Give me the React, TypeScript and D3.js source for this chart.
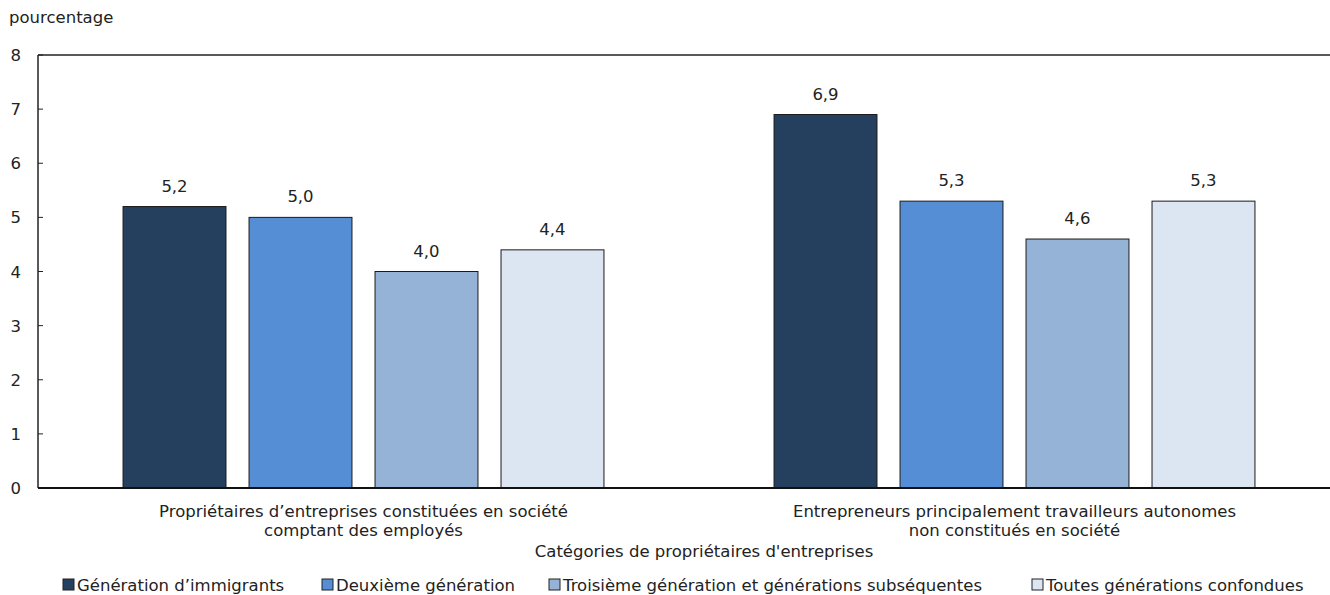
import React from "react";
import * as d3 from "d3";

const categories = [
  ["Propriétaires d’entreprises constituées en société", "comptant des employés"],
  ["Entrepreneurs principalement travailleurs autonomes", "non constitués en société"],
];
const series = [
  "Génération d’immigrants",
  "Deuxième génération",
  "Troisième génération et générations subséquentes",
  "Toutes générations confondues",
];
const values = [
  [5.2, 5.0, 4.0, 4.4],
  [6.9, 5.3, 4.6, 5.3],
];
const colors = ["#253F5F", "#558ED5", "#95B3D7", "#DCE6F2"];
const yTicks = [0, 1, 2, 3, 4, 5, 6, 7, 8];
const legendX = [63, 322, 549, 1032];

const W = 1330;
const H = 595;
const FONT = "Verdana, 'DejaVu Sans', sans-serif";
const FS = 16.5;

export default function App() {
  const left = 38;
  const top = 55;
  const bottom = 488;
  const y = d3.scaleLinear().domain([0, 8]).range([bottom, top]);
  const x0 = d3.scaleBand<number>().domain([0, 1]).range([left, left + 1302]);
  const x1 = d3
    .scaleBand<number>()
    .domain([0, 1, 2, 3])
    .range([0, x0.bandwidth()])
    .paddingInner(0.183)
    .paddingOuter(0.675);
  const fmt = (v: number) => v.toFixed(1).replace(".", ",");

  return (
    <svg width={W} height={H} style={{ position: "absolute", left: 0, top: 0, fontFamily: FONT }}>
      <rect x={0} y={0} width={W} height={H} fill="#fff" />
      <text x={9} y={23} fontSize={FS} fill="#222">pourcentage</text>
      {yTicks.map((t) => (
        <g key={t}>
          <line x1={left} x2={left + 5} y1={y(t)} y2={y(t)} stroke="#222" strokeWidth={1} />
          <text x={21} y={y(t) + 6} fontSize={FS} textAnchor="end" fill="#222">{t}</text>
        </g>
      ))}
      {values.map((row, gi) =>
        row.map((v, si) => {
          const bx = (x0(gi) as number) + (x1(si) as number);
          return (
            <g key={`${gi}-${si}`}>
              <rect
                x={bx}
                y={y(v)}
                width={x1.bandwidth()}
                height={y(0) - y(v)}
                fill={colors[si]}
                stroke="#1a1a1a"
                strokeWidth={1}
              />
              <text x={bx + x1.bandwidth() / 2} y={y(v) - 15} fontSize={FS} textAnchor="middle" fill="#222">
                {fmt(v)}
              </text>
            </g>
          );
        })
      )}
      <line x1={left} x2={W} y1={top} y2={top} stroke="#222" strokeWidth={1.5} />
      <line x1={left} x2={left} y1={top} y2={bottom} stroke="#222" strokeWidth={1.5} />
      <line x1={left} x2={W} y1={bottom} y2={bottom} stroke="#111" strokeWidth={2} />
      {categories.map((lines, gi) => (
        <text key={gi} x={(x0(gi) as number) + x0.bandwidth() / 2} textAnchor="middle" fontSize={FS} fill="#222">
          {lines.map((l, li) => (
            <tspan key={li} x={(x0(gi) as number) + x0.bandwidth() / 2} y={517 + li * 19}>{l}</tspan>
          ))}
        </text>
      ))}
      <text x={704} y={557} textAnchor="middle" fontSize={FS} fill="#222">Catégories de propriétaires d'entreprises</text>
      {series.map((s, i) => (
        <g key={s}>
          <rect x={legendX[i]} y={579} width={11} height={11} fill={colors[i]} stroke="#222" strokeWidth={1} />
          <text x={legendX[i] + 14} y={591} fontSize={FS} fill="#222">{s}</text>
        </g>
      ))}
    </svg>
  );
}
